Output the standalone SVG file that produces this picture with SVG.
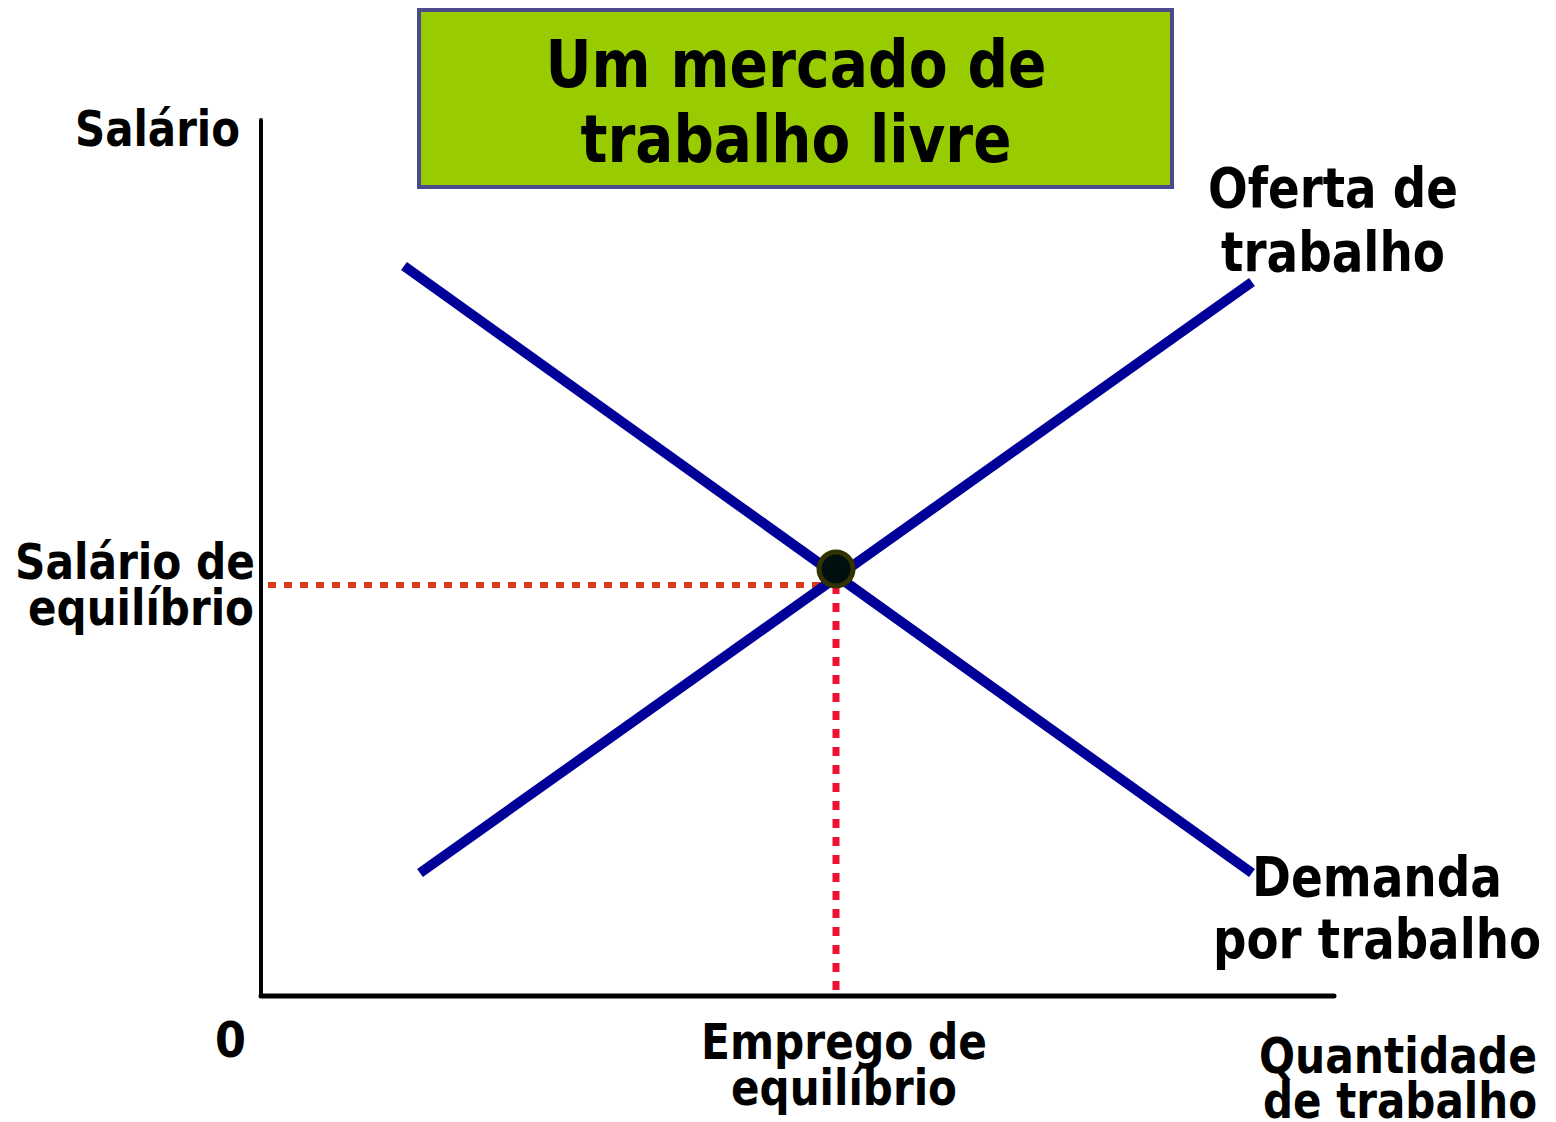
<svg xmlns="http://www.w3.org/2000/svg" width="1556" height="1122" viewBox="0 0 1556 1122">
<style>
.t{font-family:"DejaVu Sans","Liberation Sans",sans-serif;font-weight:bold;fill:#000}
.l{font-size:50px}
.b{font-size:55px}
.curve{stroke:#000099;stroke-width:10;fill:none}
.axis{stroke:#000;fill:none;stroke-linecap:round}
</style>
<rect width="1556" height="1122" fill="#fff"/>
<g id="title">
<rect x="419" y="10" width="753" height="177" fill="#99cc00" stroke="#4b4b8c" stroke-width="4"/>
<text class="t" x="796" y="87" font-size="66" text-anchor="middle" textLength="501" lengthAdjust="spacingAndGlyphs">Um mercado de</text>
<text class="t" x="796" y="162" font-size="66" text-anchor="middle" textLength="431" lengthAdjust="spacingAndGlyphs">trabalho livre</text>
</g>
<g id="connectors">
<line class="axis" x1="261" y1="120" x2="261" y2="996" stroke-width="4"/>
<line class="axis" x1="261" y1="996" x2="1334" y2="996" stroke-width="5"/>
<line x1="268" y1="585" x2="830" y2="585" stroke="#dd3a1a" stroke-width="6" stroke-dasharray="8 8"/>
<line x1="836" y1="585" x2="836" y2="995" stroke="#ee1133" stroke-width="7" stroke-dasharray="9 9"/>
<line id="demand" class="curve" x1="404" y1="266" x2="1252" y2="873"/>
<line id="supply" class="curve" x1="420" y1="873" x2="1252" y2="282"/>
</g>
<g id="equilibrium">
<circle cx="836" cy="569" r="17" fill="#001010" stroke="#333300" stroke-width="5"/>
</g>
<g id="y-label"><text class="t l" x="75" y="146" textLength="165" lengthAdjust="spacingAndGlyphs">Salário</text></g>
<g id="wage-label">
<text class="t l" x="15" y="579" textLength="240" lengthAdjust="spacingAndGlyphs">Salário de</text>
<text class="t l" x="28" y="625" textLength="226" lengthAdjust="spacingAndGlyphs">equilíbrio</text>
</g>
<g id="origin"><text class="t l" x="215" y="1057" textLength="31" lengthAdjust="spacingAndGlyphs">0</text></g>
<g id="employment-label">
<text class="t l" x="701" y="1059" textLength="286" lengthAdjust="spacingAndGlyphs">Emprego de</text>
<text class="t l" x="731" y="1105" textLength="226" lengthAdjust="spacingAndGlyphs">equilíbrio</text>
</g>
<g id="x-label">
<text class="t l" x="1537" y="1073" text-anchor="end" textLength="278" lengthAdjust="spacingAndGlyphs">Quantidade</text>
<text class="t l" x="1537" y="1118" text-anchor="end" textLength="274" lengthAdjust="spacingAndGlyphs">de trabalho</text>
</g>
<g id="supply-label">
<text class="t b" x="1208" y="207" textLength="250" lengthAdjust="spacingAndGlyphs">Oferta de</text>
<text class="t b" x="1221" y="271" textLength="224" lengthAdjust="spacingAndGlyphs">trabalho</text>
</g>
<g id="demand-label">
<text class="t b" x="1252" y="896" textLength="250" lengthAdjust="spacingAndGlyphs">Demanda</text>
<text class="t b" x="1541" y="958" text-anchor="end" textLength="328" lengthAdjust="spacingAndGlyphs">por trabalho</text>
</g>
</svg>
